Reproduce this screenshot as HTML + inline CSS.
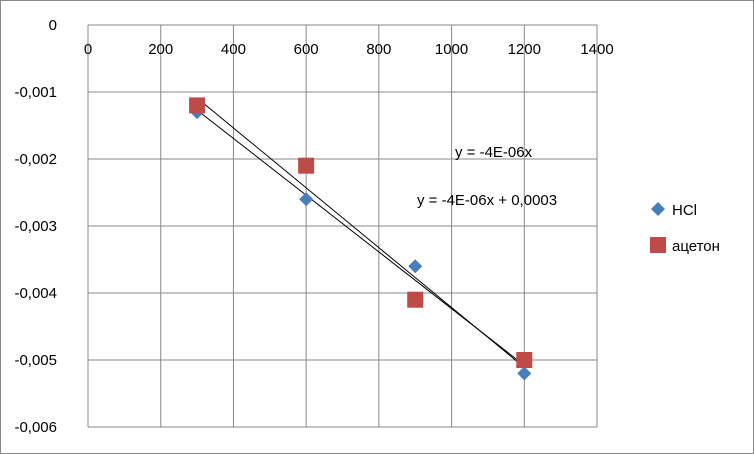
<!DOCTYPE html>
<html><head><meta charset="utf-8"><style>
html,body{margin:0;padding:0;background:#fff;}
svg{display:block;font-family:"Liberation Sans","DejaVu Sans",sans-serif;}
</style></head><body>
<svg id="c" width="754" height="454">
<rect x="0.5" y="0.5" width="753" height="453" fill="#fff" stroke="#888"/>
<g id="grid"></g><g id="marks"></g><g id="labels"></g>
</svg>
<script>
const xTicks=[0,200,400,600,800,1000,1200,1400];
const yTicks=[0,-0.001,-0.002,-0.003,-0.004,-0.005,-0.006];
const yTickLabels=["0","-0,001","-0,002","-0,003","-0,004","-0,005","-0,006"];
const xValues=[300,600,900,1200];
const hclValues=[-0.0013,-0.0026,-0.0036,-0.0052];
const acetonValues=[-0.0012,-0.0021,-0.0041,-0.0050];
const X=v=>88+v*(597-88)/1400;
const Y=v=>25+(-v)*(427-25)/0.006;
const NS="http://www.w3.org/2000/svg";
function mk(p,t,a){const e=document.createElementNS(NS,t);for(const k in a)e.setAttribute(k,a[k]);p.appendChild(e);return e;}
const g=document.getElementById('grid'),m=document.getElementById('marks'),l=document.getElementById('labels');
xTicks.forEach(v=>{const e=mk(g,'line',{x1:X(v),x2:X(v),y1:Y(0),y2:Y(-0.006),stroke:'#888','stroke-width':1});

const t=mk(l,'text',{x:X(v),y:54,'text-anchor':'middle','font-size':15,fill:'#000'});t.textContent=v;
});
yTicks.forEach((v,i)=>{const e=mk(g,'line',{x1:X(0),x2:X(1400),y1:Y(v),y2:Y(v),stroke:'#888','stroke-width':1});

const t=mk(l,'text',{x:57,y:Y(v)+5,'text-anchor':'end','font-size':15,fill:'#000'});t.textContent=yTickLabels[i];
});
// HCl trend through origin
let sxy=0,sxx=0;xValues.forEach((x,i)=>{sxy+=x*hclValues[i];sxx+=x*x;});const k1=sxy/sxx;
// aceton linear regression
const n=xValues.length,mx=xValues.reduce((a,b)=>a+b)/n,my=acetonValues.reduce((a,b)=>a+b)/n;
let num=0,den=0;xValues.forEach((x,i)=>{num+=(x-mx)*(acetonValues[i]-my);den+=(x-mx)**2;});
const k2=num/den,b2=my-k2*mx;
const x0=xValues[0],x1=xValues[n-1];
let tl=mk(m,'line',{x1:X(x0),y1:Y(k1*x0),x2:X(x1),y2:Y(k1*x1),stroke:'#000','stroke-width':1});

tl=mk(m,'line',{x1:X(x0),y1:Y(k2*x0+b2),x2:X(x1),y2:Y(k2*x1+b2),stroke:'#000','stroke-width':1});

xValues.forEach((x,i)=>{const cx=X(x),cy=Y(hclValues[i]);
const p=mk(m,'polygon',{points:`${cx},${cy-7} ${cx+7},${cy} ${cx},${cy+7} ${cx-7},${cy}`,fill:'#4a7ebb'});
});
xValues.forEach((x,i)=>{const cx=X(x),cy=Y(acetonValues[i]);
const r=mk(m,'rect',{x:cx-8,y:cy-8,width:16,height:16,fill:'#be4b48'});
});
</script>
<svg style="position:absolute;left:0;top:0" width="754" height="454">
<text x="455" y="157" font-size="15" font-family="Liberation Sans,sans-serif">y = -4E-06x</text>
<text x="417" y="205" font-size="15" font-family="Liberation Sans,sans-serif">y = -4E-06x + 0,0003</text>
<g><polygon points="658,202 665,209 658,216 651,209" fill="#4a7ebb"/><text x="672" y="215" font-size="15" font-family="Liberation Sans,sans-serif">HCl</text></g>
<g><rect x="650" y="237" width="16" height="16" fill="#be4b48"/><text x="672" y="251" font-size="15" font-family="Liberation Sans,sans-serif">ацетон</text></g>
</svg>
</body></html>
